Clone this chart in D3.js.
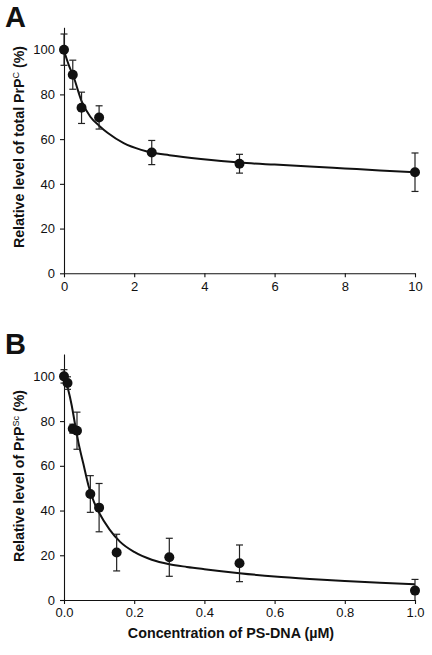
<!DOCTYPE html>
<html><head><meta charset="utf-8">
<script src="https://cdn.jsdelivr.net/npm/d3@7"></script>
<style>
html,body{margin:0;padding:0;background:#fff;}
svg{display:block;font-family:"Liberation Sans",Arial,sans-serif;}
</style></head>
<body>
<svg id="chart" width="432" height="655"></svg>
<script>
// Panel A data
const xA = [0, 0.25, 0.5, 1, 2.5, 5, 10];
const yA = [100, 88.8, 74, 69.7, 54, 49, 45.2];
const errA = [7, 6.5, 7, 5.2, 5.4, 4.2, 8.6];
const curveXA = [0, 0.15, 0.27, 0.5, 0.75, 1, 1.25, 1.7, 2.2, 2.5, 3, 3.9, 5, 6, 7, 8, 9, 10];
const curveYA = [99.5, 92.5, 88, 77, 70, 66, 62.7, 58.2, 55.2, 54, 52.8, 51.1, 49.5, 48.6, 47.8, 46.9, 46, 45.2];
const ticksXA = [0, 2, 4, 6, 8, 10];

// Panel B data
const xB = [0, 0.01, 0.025, 0.037, 0.075, 0.1, 0.15, 0.3, 0.5, 1.0];
const yB = [100, 97, 76.6, 75.7, 47.4, 41.3, 21.2, 19.1, 16.4, 4.2];
const errB = [3, 2.8, 2, 8.3, 8.2, 10.8, 8.2, 8.5, 8.2, 5];
const curveXB = [0, 0.012, 0.022, 0.031, 0.041, 0.055, 0.07, 0.085, 0.1, 0.13, 0.16, 0.2, 0.25, 0.3, 0.35, 0.4, 0.5, 0.6, 0.7, 0.8, 0.9, 1.0];
const curveYB = [100, 94, 87, 79, 70.5, 61, 51, 44, 39, 31.5, 26, 21.5, 18, 16, 14.8, 13.8, 12, 10.5, 9.4, 8.5, 7.7, 7.0];
const ticksXB = [0, 0.2, 0.4, 0.6, 0.8, 1.0];

const ticksY = [0, 20, 40, 60, 80, 100];

const svg = d3.select("#chart");

function panel(cfg) {
  const g = svg.append("g");
  const x = d3.scaleLinear().domain(cfg.xDomain).range([64, 415]);
  const y = d3.scaleLinear().domain([0, 110]).range([cfg.y0, cfg.y0 - 246]);

  const ax = g.append("g").attr("transform", `translate(0,${cfg.y0})`)
    .call(d3.axisBottom(x).tickValues(cfg.ticksX).tickFormat(cfg.fmt).tickSize(4).tickSizeOuter(0).tickPadding(4));
  const ay = g.append("g").attr("transform", `translate(64,0)`)
    .call(d3.axisLeft(y).tickValues(ticksY).tickSize(4).tickSizeOuter(0).tickPadding(5));
  [ax, ay].forEach(a => {
    a.selectAll("text").attr("font-size", 13).attr("fill", "#111").attr("font-family", "Liberation Sans, Arial, sans-serif");
    a.selectAll("line,path").attr("stroke", "#111").attr("stroke-width", 1.1);
  });

  // curve
  const line = d3.line().x(d => x(d[0])).y(d => y(d[1])).curve(d3.curveMonotoneX);
  g.append("path").datum(d3.zip(cfg.cx, cfg.cy)).attr("d", line)
    .attr("fill", "none").attr("stroke", "#111").attr("stroke-width", 2);

  // error bars
  const data = cfg.xs.map((v, i) => ({x: v, y: cfg.ys[i], e: cfg.es[i]}));
  const eb = g.append("g").attr("stroke", "#222").attr("stroke-width", 1.2);
  data.forEach(d => {
    const lo = Math.max(0, d.y - d.e), hi = d.y + d.e;
    eb.append("line").attr("x1", x(d.x)).attr("x2", x(d.x)).attr("y1", y(lo)).attr("y2", y(hi));
    eb.append("line").attr("x1", x(d.x) - 3.5).attr("x2", x(d.x) + 3.5).attr("y1", y(hi)).attr("y2", y(hi));
    if (d.y - d.e > 0)
      eb.append("line").attr("x1", x(d.x) - 3.5).attr("x2", x(d.x) + 3.5).attr("y1", y(lo)).attr("y2", y(lo));
  });
  g.append("g").selectAll("circle").data(data).join("circle")
    .attr("cx", d => x(d.x)).attr("cy", d => y(d.y)).attr("r", 5).attr("fill", "#111");

  // panel label
  g.append("text").attr("x", 5).attr("y", cfg.y0 - 246).attr("font-size", 29).attr("font-weight", "bold")
    .attr("fill", "#111").text(cfg.label);

  // y title
  const t = g.append("text").attr("transform", `translate(24,${cfg.titleY}) rotate(-90)`)
    .attr("text-anchor", "middle").attr("font-size", 14.2).attr("font-weight", "bold").attr("fill", "#111");
  t.append("tspan").text(cfg.yTitle[0]);
  t.append("tspan").attr("font-size", 9).attr("font-weight", "normal").attr("dy", -5.5).text(cfg.yTitle[1]);
  t.append("tspan").attr("dy", 5.5).text(cfg.yTitle[2]);
}

panel({label: "A", y0: 273.3, xDomain: [0, 10], ticksX: ticksXA, fmt: d3.format("d"),
  xs: xA, ys: yA, es: errA, cx: curveXA, cy: curveYA, titleY: 147,
  yTitle: ["Relative level of total PrP", "C", " (%)"]});
panel({label: "B", y0: 600, xDomain: [0, 1], ticksX: ticksXB, fmt: d3.format(".1f"),
  xs: xB, ys: yB, es: errB, cx: curveXB, cy: curveYB, titleY: 476,
  yTitle: ["Relative level of PrP", "Sc", " (%)"]});

svg.append("text").attr("x", 231).attr("y", 638).attr("text-anchor", "middle")
  .attr("font-size", 14.3).attr("font-weight", "bold").attr("fill", "#111")
  .text("Concentration of PS-DNA (µM)");
</script>
</body></html>
